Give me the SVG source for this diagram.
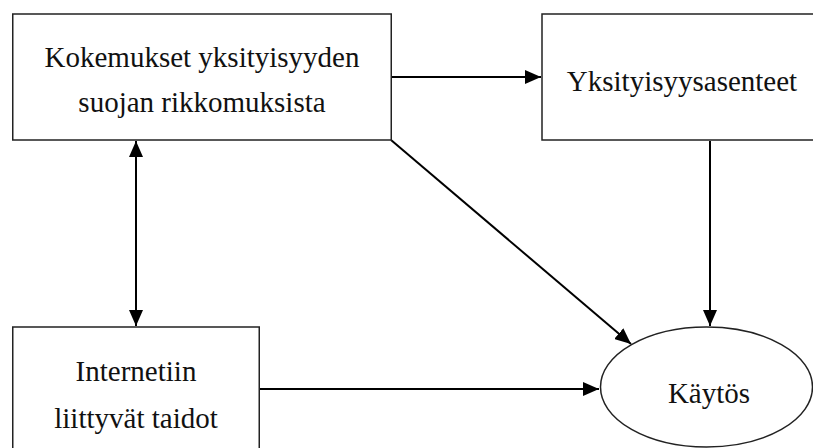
<svg xmlns="http://www.w3.org/2000/svg" width="813" height="448" viewBox="0 0 813 448">
  <style>
    .box { fill: #ffffff; stroke: #222222; stroke-width: 1.5; }
    .edge { stroke: #000000; stroke-width: 2; fill: none; }
  </style>
  <defs>
    <marker id="arr" viewBox="0 0 16 14" refX="16" refY="7" markerWidth="16" markerHeight="14" markerUnits="userSpaceOnUse" orient="auto-start-reverse">
      <path d="M0,0 L16,7 L0,14 z" fill="#000000"/>
    </marker>
  </defs>
  <rect width="813" height="448" fill="#ffffff"/>

  <g id="connectors">
    <line class="edge" x1="392" y1="77" x2="541" y2="77" marker-end="url(#arr)"/>
    <line class="edge" x1="136" y1="141" x2="136" y2="326" marker-start="url(#arr)" marker-end="url(#arr)"/>
    <line class="edge" x1="391" y1="140" x2="631" y2="344" marker-end="url(#arr)"/>
    <line class="edge" x1="710" y1="141" x2="710" y2="326" marker-end="url(#arr)"/>
    <line class="edge" x1="260" y1="389" x2="599" y2="389" marker-end="url(#arr)"/>
  </g>

  <g font-family="'Liberation Serif', 'Times New Roman', 'DejaVu Serif', serif" font-size="29" fill="#111111" text-anchor="middle">
    <g id="kokemukset">
      <rect class="box" x="12.75" y="14" width="378.5" height="126"/>
      <text x="202" y="67">Kokemukset yksityisyyden</text>
      <text x="202" y="112">suojan rikkomuksista</text>
    </g>

    <g id="asenteet">
      <rect class="box" x="542" y="14" width="280" height="126"/>
      <text x="682" y="91">Yksityisyysasenteet</text>
    </g>

    <g id="taidot">
      <rect class="box" x="12.75" y="327" width="246.5" height="130"/>
      <text x="136" y="381">Internetiin</text>
      <text x="136" y="428">liittyvät taidot</text>
    </g>

    <g id="kaytos">
      <ellipse class="box" cx="706.5" cy="387" rx="106" ry="60"/>
      <text x="709" y="403">Käytös</text>
    </g>
  </g>
</svg>
